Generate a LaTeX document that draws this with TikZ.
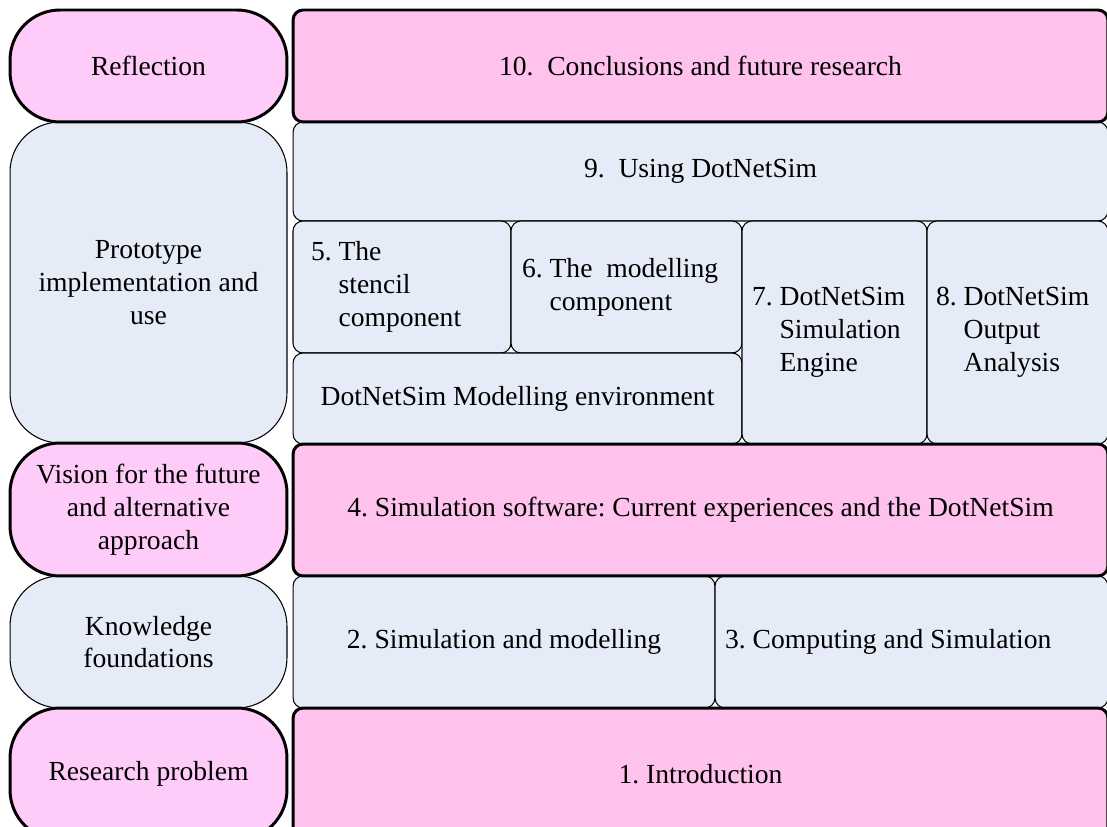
\documentclass[tikz,border=0pt]{standalone}
\usepackage{fontspec}
\setmainfont{Liberation Serif}
\usepackage{xcolor}
\usepackage{tikz}

\definecolor{stagepink}{HTML}{FFCCF9}
\definecolor{chappink}{HTML}{FFC2EC}
\definecolor{paleblue}{HTML}{E6ECF7}

\begin{document}
\frenchspacing
\begin{tikzpicture}[x=0.02cm, y=-0.02cm, font=\fontsize{15.7}{18.7}\selectfont,
        cell/.style = {draw, outer sep=0pt, inner sep=0pt, align=center},
        stage/.style = {cell, rounded corners=1cm, minimum width=5.54cm},
        chapter/.style = {cell, rounded corners=0.2cm},
        strong/.style = {line width=1.7pt},
        soft/.style = {line width=0.6pt, fill=paleblue}]
    \useasboundingbox (0,0) rectangle (1107,827);
    \clip (0,0) rectangle (1107,827);
    % left column: stages
    \node[stage, soft, minimum height=6.42cm] (proto) at (148.5,282.5) {Prototype\\implementation and\\use};
    \node[stage, soft, minimum height=2.64cm] (know) at (148.5,642) {Knowledge\\foundations};
    \node[stage, strong, fill=stagepink, minimum height=2.24cm] (refl) at (148.5,66) {Reflection};
    \node[stage, strong, fill=stagepink, minimum height=2.66cm] (vision) at (148.5,509.5) {Vision for the future\\and alternative\\approach};
    \node[stage, strong, fill=stagepink, minimum height=2.64cm] (resp) at (148.5,774) {Research problem};
    % right column: chapters
    \node[chapter, soft, minimum width=16.3cm, minimum height=1.98cm] (c9) at (700.5,171.5) {9.\ \ Using DotNetSim};
    \node[chapter, soft, minimum width=4.36cm, minimum height=2.64cm, text width=3.64cm, align=flush left] (c5) at (402,287) {5. The\\\phantom{5. }stencil\\\phantom{5. }component};
    \node[chapter, soft, minimum width=4.62cm, minimum height=2.64cm, text width=4.18cm, align=flush left] (c6) at (626.5,287) {6. The\ \ modelling\\\phantom{6. }component};
    \node[chapter, soft, minimum width=8.98cm, minimum height=1.82cm] (env) at (517.5,398.5) {DotNetSim Modelling environment};
    \node[chapter, soft, minimum width=3.7cm, minimum height=4.46cm, text width=3.3cm, align=flush left] (c7) at (834.5,332.5) {7. DotNetSim\\\phantom{7. }Simulation\\\phantom{7. }Engine};
    \node[chapter, soft, minimum width=3.62cm, minimum height=4.46cm, text width=3.26cm, align=flush left] (c8) at (1017.5,332.5) {8. DotNetSim\\\phantom{8. }Output\\\phantom{8. }Analysis};
    \node[chapter, soft, minimum width=8.44cm, minimum height=2.64cm] (c2) at (504,642) {2. Simulation and modelling};
    \node[chapter, soft, minimum width=7.86cm, minimum height=2.64cm, text width=7.46cm, align=flush left] (c3) at (911.5,642) {3. Computing and Simulation};
    \node[chapter, strong, fill=chappink, minimum width=16.3cm, minimum height=2.24cm] (c10) at (700.5,66) {10.\ \ Conclusions and future research};
    \node[chapter, strong, fill=chappink, minimum width=16.3cm, minimum height=2.64cm] (c4) at (700.5,510) {4. Simulation software: Current experiences and the DotNetSim};
    \node[chapter, strong, fill=chappink, minimum width=16.3cm, minimum height=2.64cm] (c1) at (700.5,774) {1. Introduction};
\end{tikzpicture}
\end{document}
